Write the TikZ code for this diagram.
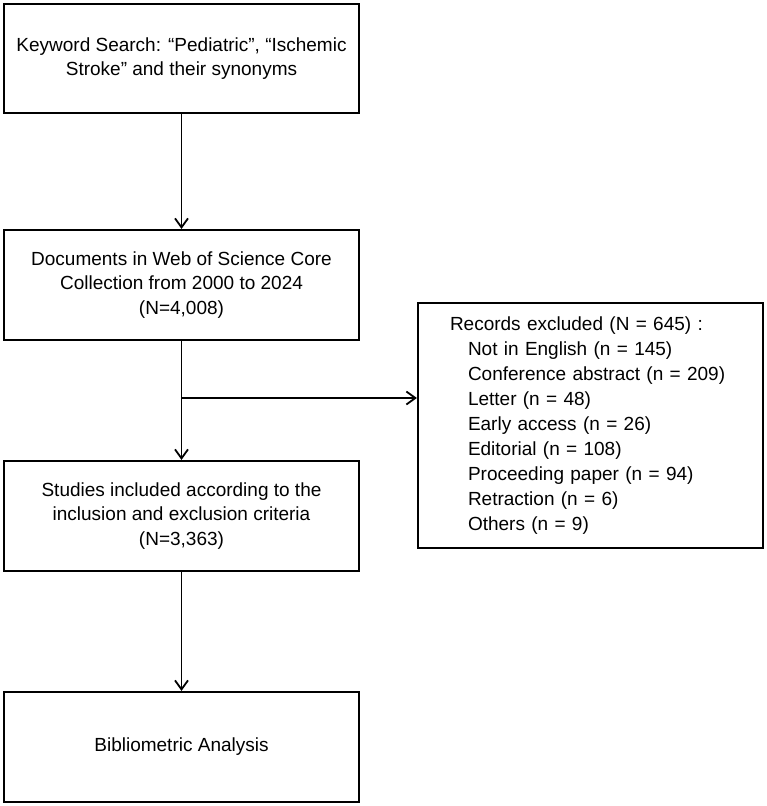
\documentclass[tikz,border=0pt]{standalone}
\usepackage{fontspec}
\setmainfont{Liberation Sans}
\usetikzlibrary{positioning, arrows.meta}

\begin{document}
\begin{tikzpicture}[
  x=1pt, y=-1pt,
  every node/.style={font=\fontsize{19}{24.5}\selectfont},
  stage/.style={rectangle, draw=black, line width=2.2pt, minimum width=355pt, minimum height=110pt, align=center, inner sep=0pt},
  flow/.style={-{Straight Barb[length=9pt,width=13pt]}, line width=1.8pt}
]
  \useasboundingbox (0,0) rectangle (767,806);
  \node[stage, minimum height=109pt] (search) at (181.5,58.5)
    {Keyword Search: “Pediatric”, “Ischemic\\Stroke” and their synonyms};
  \node[stage] (docs) at (181.5,285)
    {Documents in Web of Science Core\\Collection from 2000 to 2024\\(N=4,008)};
  \node[stage] (included) at (181.5,516)
    {Studies included according to the\\inclusion and exclusion criteria\\(N=3,363)};
  \node[stage] (analysis) at (181.5,747) {Bibliometric Analysis};
  \node[rectangle, draw=black, line width=2.2pt, minimum width=345pt, minimum height=245pt,
    text width=281pt, inner xsep=32pt, align=left, font=\fontsize{19}{25}\selectfont] (excluded) at (590.5,425.5)
    {Records excluded (N = 645) :\\
     \hspace*{18pt}Not in English (n = 145)\\
     \hspace*{18pt}Conference abstract (n = 209)\\
     \hspace*{18pt}Letter (n = 48)\\
     \hspace*{18pt}Early access (n = 26)\\
     \hspace*{18pt}Editorial (n = 108)\\
     \hspace*{18pt}Proceeding paper (n = 94)\\
     \hspace*{18pt}Retraction (n = 6)\\
     \hspace*{18pt}Others (n = 9)};
  \coordinate (split) at (181.5,398);
  \draw[flow] (search) -- (docs);
  \draw[flow] (docs) -- (included);
  \draw[flow] (included) -- (analysis);
  \draw[flow] (split) -- (split -| excluded.west);
\end{tikzpicture}
\end{document}
